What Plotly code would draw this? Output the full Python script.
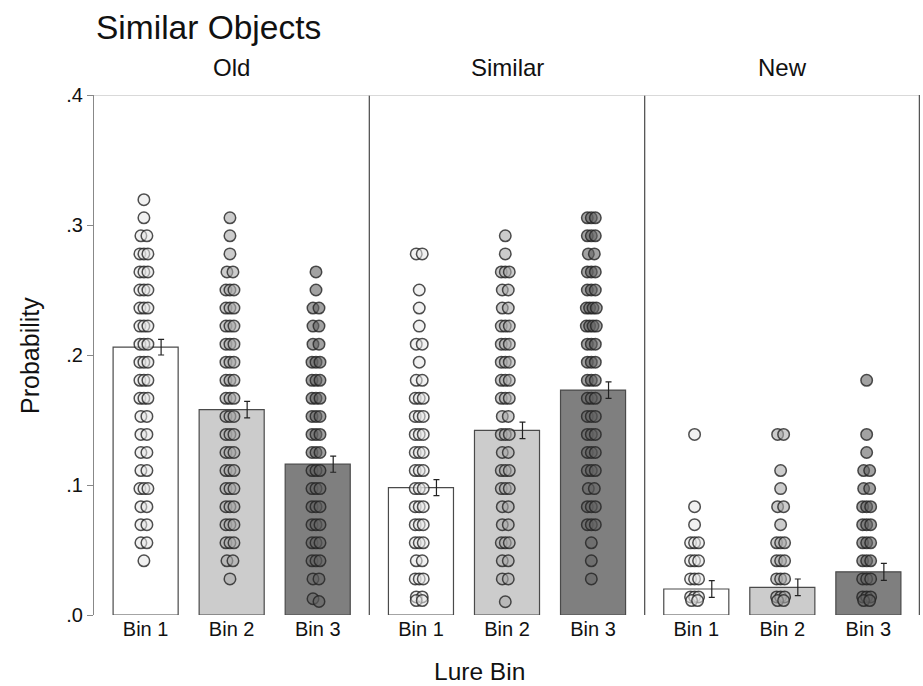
import plotly.graph_objects as go

# ---------------- data ----------------
conditions = ["Old", "Similar", "New"]
bin_labels = ["Bin 1", "Bin 2", "Bin 3"]

old_means = [0.206, 0.158, 0.116]
similar_means = [0.098, 0.142, 0.173]
new_means = [0.020, 0.0213, 0.0332]

old_err = [0.0060, 0.0063, 0.0062]
similar_err = [0.0062, 0.0064, 0.0064]
new_err = [0.0064, 0.0064, 0.0065]

# individual points: levels in 72nds (k/72) with counts, plus a few off-grid values
old_b1_k = [23, 22, 21, 20, 19, 18, 17, 16, 15, 14, 13, 12, 11, 10, 9, 8, 7, 6, 5, 4, 3]
old_b1_n = [1, 1, 2, 3, 3, 3, 3, 3, 3, 3, 3, 3, 2, 2, 2, 2, 3, 2, 2, 2, 1]
old_b1_extra = []

old_b2_k = [22, 21, 20, 19, 18, 17, 16, 15, 14, 13, 12, 11, 10, 9, 8, 7, 6, 5, 4, 3, 2]
old_b2_n = [1, 1, 1, 2, 3, 3, 3, 3, 3, 3, 3, 3, 3, 3, 3, 3, 3, 3, 3, 2, 1]
old_b2_extra = []

old_b3_k = [19, 18, 17, 16, 15, 14, 13, 12, 11, 10, 9, 8, 7, 6, 5, 4, 3, 2]
old_b3_n = [1, 1, 2, 2, 2, 3, 3, 3, 3, 3, 3, 3, 3, 3, 3, 3, 3, 2]
old_b3_extra = [0.0125, 0.0104]

sim_b1_k = [20, 18, 17, 16, 15, 14, 13, 12, 11, 10, 9, 8, 7, 6, 5, 4, 3, 2, 1]
sim_b1_n = [2, 1, 1, 1, 2, 1, 2, 3, 3, 3, 3, 3, 3, 3, 3, 3, 2, 3, 2]
sim_b1_extra = [0.0111, 0.0111]

sim_b2_k = [21, 20, 19, 18, 17, 16, 15, 14, 13, 12, 11, 10, 9, 8, 7, 6, 5, 4, 3, 2]
sim_b2_n = [1, 1, 3, 2, 2, 3, 3, 3, 3, 3, 2, 3, 2, 3, 3, 2, 2, 3, 2, 2]
sim_b2_extra = [0.0102]

sim_b3_k = [22, 21, 20, 19, 18, 17, 16, 15, 14, 13, 12, 11, 10, 9, 8, 7, 6, 5, 4, 3, 2]
sim_b3_n = [3, 3, 2, 3, 3, 4, 4, 3, 3, 3, 3, 3, 3, 3, 3, 2, 3, 3, 1, 1, 1]
sim_b3_extra = []

new_b1_k = [10, 6, 5, 4, 3, 2, 1]
new_b1_n = [1, 1, 1, 3, 3, 3, 3]
new_b1_extra = [0.0111, 0.0111]

new_b2_k = [10, 8, 7, 6, 5, 4, 3, 2, 1]
new_b2_n = [2, 1, 1, 2, 1, 3, 3, 3, 3]
new_b2_extra = [0.0111, 0.0111]

new_b3_k = [13, 10, 9, 8, 7, 6, 5, 4, 3, 2, 1]
new_b3_n = [1, 1, 1, 2, 2, 3, 3, 3, 3, 3, 3]
new_b3_extra = [0.0111, 0.0111]

y_ticks = [0.0, 0.1, 0.2, 0.3, 0.4]
y_tick_text = [".0", ".1", ".2", ".3", ".4"]

# ---------------- build ----------------
means = [old_means, similar_means, new_means]
errs = [old_err, similar_err, new_err]
points = [
    [(old_b1_k, old_b1_n, old_b1_extra), (old_b2_k, old_b2_n, old_b2_extra), (old_b3_k, old_b3_n, old_b3_extra)],
    [(sim_b1_k, sim_b1_n, sim_b1_extra), (sim_b2_k, sim_b2_n, sim_b2_extra), (sim_b3_k, sim_b3_n, sim_b3_extra)],
    [(new_b1_k, new_b1_n, new_b1_extra), (new_b2_k, new_b2_n, new_b2_extra), (new_b3_k, new_b3_n, new_b3_extra)],
]

PANEL = 3.2
PX = 86.0  # pixels per x unit (approx)
bar_fill = ["#ffffff", "#cccccc", "#7f7f7f"]
dot_fill = ["rgba(230,230,230,0.55)", "rgba(170,170,170,0.6)", "rgba(100,100,100,0.6)"]
offsets = {1: [0], 2: [-3, 3], 3: [-4, 0, 4], 4: [-5, -1.7, 1.7, 5]}

def xpos(c, b):
    return 1 + b + PANEL * c

fig = go.Figure()

# bars
for b in range(3):
    fig.add_trace(go.Bar(
        x=[xpos(c, b) for c in range(3)],
        y=[means[c][b] for c in range(3)],
        width=0.756,
        marker=dict(color=bar_fill[b], line=dict(color="#4a4a4a", width=1.2)),
        showlegend=False, hoverinfo="skip",
    ))

# dots
for c in range(3):
    for b in range(3):
        ks, ns, extra = points[c][b]
        xs, ys = [], []
        for k, n in zip(ks, ns):
            for o in offsets[n]:
                xs.append(xpos(c, b) - 0.02 + o / PX)
                ys.append(k / 72.0)
        eo = offsets.get(len(extra), [0] * len(extra)) if extra else []
        for v, o in zip(extra, eo):
            xs.append(xpos(c, b) - 0.02 + o / PX)
            ys.append(v)
        fig.add_trace(go.Scatter(
            x=xs, y=ys, mode="markers",
            marker=dict(size=11.5, color=dot_fill[b],
                        line=dict(color="rgba(35,35,35,0.8)", width=1.5)),
            showlegend=False, hoverinfo="skip",
        ))

# error bars (offset right of bar center)
ex, ey, ee = [], [], []
for c in range(3):
    for b in range(3):
        ex.append(xpos(c, b) + 0.18)
        ey.append(means[c][b])
        ee.append(errs[c][b])
fig.add_trace(go.Scatter(
    x=ex, y=ey, mode="markers", marker=dict(size=1, color="rgba(0,0,0,0)"),
    error_y=dict(type="data", array=ee, visible=True, color="#222222", thickness=1.2, width=3),
    showlegend=False, hoverinfo="skip",
))

# panel separators and borders
for xs in [PANEL + 0.4, 2 * PANEL + 0.4]:
    fig.add_shape(type="line", x0=xs, x1=xs, y0=0, y1=0.4, xref="x", yref="y",
                  line=dict(color="#555555", width=1.3))
fig.add_shape(type="line", x0=0.4, x1=3 * PANEL + 0.4, y0=0.4, y1=0.4, xref="x", yref="y",
              line=dict(color="#cccccc", width=1.3))
fig.add_shape(type="line", x0=3 * PANEL + 0.4, x1=3 * PANEL + 0.4, y0=0, y1=0.4, xref="x", yref="y",
              line=dict(color="#555555", width=2.5))

FONT = "Liberation Sans, Arial, sans-serif"

# panel headers
for c, name in enumerate(conditions):
    fig.add_annotation(x=xpos(c, 1), y=1.052, xref="x", yref="paper", text=name,
                       showarrow=False, font=dict(size=24, color="#111111", family=FONT),
                       xanchor="center", yanchor="middle")

# title
fig.add_annotation(x=0.0, y=1.13, xref="paper", yref="paper", text="Similar Objects",
                   showarrow=False, font=dict(size=33.5, color="#111111", family=FONT),
                   xanchor="left", yanchor="middle")
# axis titles
fig.add_annotation(x=0.467, y=-0.108, xref="paper", yref="paper", text="Lure Bin",
                   showarrow=False, font=dict(size=24.5, color="#111111", family=FONT),
                   xanchor="center", yanchor="middle")
fig.add_annotation(x=-0.0775, y=0.5, xref="paper", yref="paper", text="Probability",
                   textangle=-90, showarrow=False, font=dict(size=25, color="#111111", family=FONT),
                   xanchor="center", yanchor="middle")

tickvals = [xpos(c, b) for c in range(3) for b in range(3)]
ticktext = [bin_labels[b] for c in range(3) for b in range(3)]

fig.update_layout(
    width=923, height=686,
    margin=dict(l=94, r=3, t=95, b=71),
    paper_bgcolor="white", plot_bgcolor="white",
    barmode="overlay",
    font=dict(family=FONT, color="#111111"),
    xaxis=dict(range=[0.4, 3 * PANEL + 0.4], tickvals=tickvals, ticktext=ticktext,
               showgrid=False, zeroline=False, showline=False, ticks="",
               tickfont=dict(size=20, color="#111111", family=FONT)),
    yaxis=dict(range=[0, 0.4], tickvals=y_ticks, ticktext=y_tick_text,
               showgrid=False, zeroline=False, showline=True, linecolor="#888888", linewidth=1.2,
               ticks="outside", ticklen=6, tickcolor="#888888", tickwidth=1.2,
               tickfont=dict(size=20, color="#111111", family=FONT)),
)

fig.write_html("out.html")
